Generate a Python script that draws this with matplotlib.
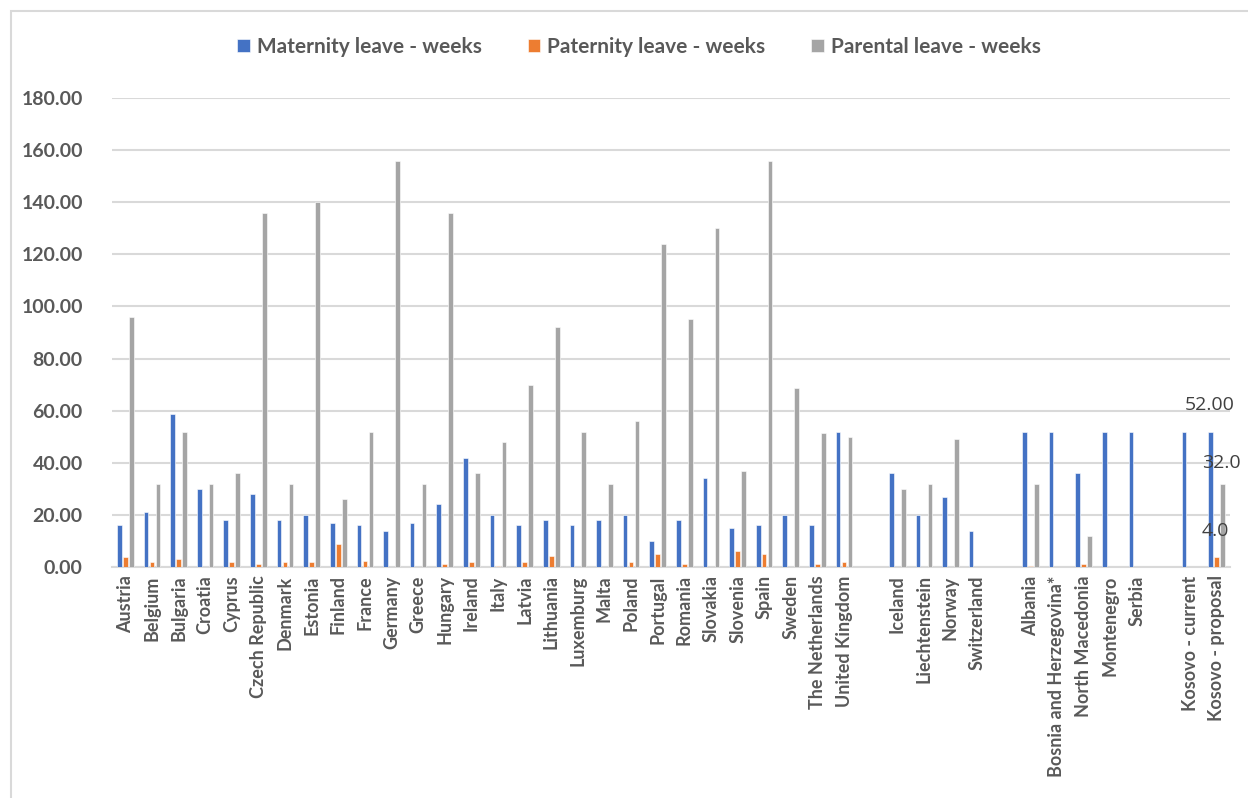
import numpy as np
import matplotlib
matplotlib.use("Agg")
import matplotlib.pyplot as plt
from matplotlib.patches import Rectangle

# Categories ("" marks an empty slot separating country groups)
categories = [
    "Austria", "Belgium", "Bulgaria", "Croatia", "Cyprus", "Czech Republic",
    "Denmark", "Estonia", "Finland", "France", "Germany", "Greece", "Hungary",
    "Ireland", "Italy", "Latvia", "Lithuania", "Luxemburg", "Malta", "Poland",
    "Portugal", "Romania", "Slovakia", "Slovenia", "Spain", "Sweden",
    "The Netherlands", "United Kingdom", "",
    "Iceland", "Liechtenstein", "Norway", "Switzerland", "",
    "Albania", "Bosnia and Herzegovina*", "North Macedonia", "Montenegro", "Serbia", "",
    "Kosovo - current", "Kosovo - proposal",
]

maternity = [
    16, 21, 58.6, 30, 18, 28, 18, 20, 17, 16, 14, 17, 24, 42, 20, 16, 18, 16, 18,
    20, 10, 18, 34, 15, 16, 20, 16, 52, None,
    36, 20, 27, 14, None,
    52, 52, 36, 52, 52, None,
    52, 52,
]
paternity = [
    4, 2, 3, 0, 2, 1, 2, 2, 9, 2.2, 0, 0, 1, 2, 0.4, 2, 4.3, 0, 0,
    2, 5, 1, 0, 6, 5, 0, 1, 2, None,
    0, 0, 0, 0, None,
    0.3, 0, 1, 0, 0, None,
    0, 4,
]
parental = [
    96, 32, 52, 32, 36, 136, 32, 140, 26, 52, 156, 32, 136, 36, 48, 70, 92, 52, 32,
    56, 124, 95, 130, 37, 156, 68.6, 51.6, 50, None,
    30, 32, 49, 0, None,
    32, 0, 12, 0, 0, None,
    0, 32,
]

series_names = ["Maternity leave - weeks", "Paternity leave - weeks", "Parental leave - weeks"]
series_colors = ["#4472C4", "#ED7D31", "#A5A5A5"]
y_ticks = [0, 20, 40, 60, 80, 100, 120, 140, 160, 180]

plt.rcParams["font.family"] = ["Lato", "DejaVu Sans"]

fig = plt.figure(figsize=(12.48, 7.98), dpi=100)
ax = fig.add_axes([112 / 1248, 1 - 567 / 798, (1230 - 112) / 1248, (567 - 98) / 798])

x = np.arange(len(categories))
offsets = [-0.225, 0.0, 0.225]
width = 0.175
for vals, off, color, name in zip([maternity, paternity, parental], offsets, series_colors, series_names):
    idx = [i for i, v in enumerate(vals) if v is not None]
    h = [vals[i] for i in idx]
    ax.bar(x[idx] + off, h, width=width, color=color, edgecolor="white",
           linewidth=0.4, label=name, zorder=3)

ax.set_xlim(-0.5, len(categories) - 0.5)
ax.set_ylim(0, 180)
ax.set_yticks(y_ticks)
ax.set_yticklabels([f"{t:.2f}" for t in y_ticks], fontsize=14, fontweight="bold", color="#595959")
ax.set_xticks(x)
ax.set_xticklabels(categories, rotation=90, fontsize=13, fontweight="bold", color="#595959")
ax.tick_params(axis="both", length=0)
ax.tick_params(axis="y", pad=21)
ax.tick_params(axis="x", pad=6)
ax.grid(axis="y", color="#d9d9d9", linewidth=1.5, zorder=0)
for s in ["top", "right", "left"]:
    ax.spines[s].set_visible(False)
ax.spines["bottom"].set_color("#d9d9d9")
ax.spines["bottom"].set_linewidth(1.5)

# Value labels for the Kosovo proposal
k = len(categories) - 1
lab_kw = dict(fontsize=14, color="#404040", family=["Open Sans", "DejaVu Sans"], clip_on=False)
ax.text(k - 0.25, 62, f"{maternity[k]:.2f}", ha="center", va="center", **lab_kw)
ax.text(k - 0.56, 40, f"{parental[k]:.1f}", ha="left", va="center", **lab_kw)
ax.text(k - 0.56, 14, f"{paternity[k]:.1f}", ha="left", va="center", **lab_kw)

leg = fig.legend(loc="center", bbox_to_anchor=(0.512, 1 - 47 / 798), ncol=3, frameon=False,
                 prop={"size": 15, "weight": "bold"}, handlelength=0.6, handleheight=0.6,
                 handletextpad=0.35, columnspacing=2.2)
for t in leg.get_texts():
    t.set_color("#595959")

# Chart frame
fig.patches.append(Rectangle((11 / 1248, -0.05), 1.1, 1 - 11 / 798 + 0.05,
                             transform=fig.transFigure, fill=False,
                             edgecolor="#d9d9d9", linewidth=1.5))

fig.savefig("out.png", dpi=100, facecolor="white")
